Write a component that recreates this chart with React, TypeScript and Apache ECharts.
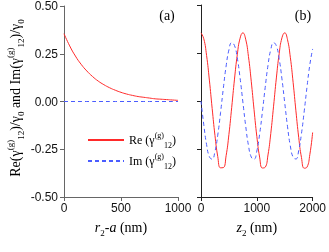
import React, { useEffect, useRef } from "react";
import * as echarts from "echarts";

const leftX = [0, 50, 100, 150, 200, 250, 300, 350, 400, 450, 500, 550, 600, 650, 700, 750, 800, 850, 900, 950, 1000];
const leftRe = [0.355, 0.291, 0.238, 0.195, 0.16, 0.131, 0.107, 0.088, 0.072, 0.059, 0.048, 0.039, 0.032, 0.026, 0.022, 0.018, 0.014, 0.012, 0.01, 0.008, 0.006];
const leftIm = [0, 0, 0, 0, 0, 0, 0, 0, 0, 0, 0, 0, 0, 0, 0, 0, 0, 0, 0, 0, 0];

const rightX = [0, 50, 100, 150, 200, 250, 300, 350, 400, 450, 500, 550, 600, 650, 700, 750, 800, 850, 900, 950, 1000, 1050, 1100, 1150, 1200, 1250, 1300, 1350, 1400, 1450, 1500, 1550, 1600, 1650, 1700, 1750, 1800, 1850, 1900, 1950, 2000];
const rightRe = [0.355, 0.324, 0.237, 0.109, -0.039, -0.179, -0.289, -0.348, -0.347, -0.285, -0.174, -0.033, 0.114, 0.241, 0.327, 0.355, 0.322, 0.232, 0.103, -0.045, -0.184, -0.292, -0.349, -0.345, -0.281, -0.169, -0.027, 0.12, 0.246, 0.329, 0.355, 0.319, 0.228, 0.097, -0.051, -0.189, -0.295, -0.35, -0.344, -0.278, -0.164];
const rightIm = [0, -0.124, -0.227, -0.29, -0.303, -0.263, -0.178, -0.061, 0.066, 0.182, 0.266, 0.304, 0.289, 0.224, 0.12, -0.005, -0.129, -0.231, -0.292, -0.303, -0.261, -0.173, -0.056, 0.071, 0.186, 0.268, 0.304, 0.287, 0.22, 0.115, -0.01, -0.134, -0.234, -0.293, -0.302, -0.258, -0.169, -0.051, 0.076, 0.19, 0.271];

const yTicks = { min: -0.5, max: 0.5, interval: 0.25 };
const leftXTicks = { min: 0, max: 1000, interval: 500 };
const rightXTicks = { min: 0, max: 2000, interval: 1000 };

const RED = "#ff2a2a";
const BLUE = "#4a5cff";
const SERIF = "Liberation Serif";
const SANS = "Liberation Sans";

const zip = (xs: number[], ys: number[]) => xs.map((x, i) => [x, ys[i]]);

export default function App() {
  const ref = useRef<HTMLDivElement>(null);
  useEffect(() => {
    if (!ref.current) return;
    const chart = echarts.init(ref.current, undefined, { renderer: "svg" });
    const axisCommon = (color: string) => ({
      axisLine: { show: true, onZero: false, lineStyle: { color, width: 1 } },
      axisTick: { show: true, inside: false, length: 4, lineStyle: { color, width: 1 } },
      splitLine: { show: false },
    });
    const subRich = {
      base: { fontFamily: SERIF, fontSize: 14, color: "#000", lineHeight: 20, verticalAlign: "middle" },
      it: { fontFamily: SERIF, fontSize: 14, fontStyle: "italic", color: "#000", lineHeight: 20 },
      sub: { fontFamily: SERIF, fontSize: 9, color: "#000", lineHeight: 20, verticalAlign: "bottom" },
      sup: { fontFamily: SERIF, fontSize: 9, color: "#000", lineHeight: 20, verticalAlign: "top" },
    };
    const legRich = {
      base: { fontFamily: SERIF, fontSize: 12, color: "#000", lineHeight: 18 },
      sub: { fontFamily: SERIF, fontSize: 8, color: "#000", lineHeight: 18, verticalAlign: "bottom" },
      sup: { fontFamily: SERIF, fontSize: 8, color: "#000", lineHeight: 18, verticalAlign: "top" },
    };
    const xLabel = { fontFamily: SANS, fontSize: 12, color: "#111", margin: 5, formatter: (v: number) => String(v) };
    chart.setOption({
      animation: false,
      grid: [
        { left: 64, top: 5, width: 114, height: 192 },
        { left: 201, top: 5, width: 114, height: 192 },
      ],
      xAxis: [
        {
          type: "value", gridIndex: 0, ...leftXTicks, ...axisCommon("#666"),
          axisLabel: xLabel,
          name: "{it|r}{sub|2}{it|-a}{base| (nm)}",
          nameLocation: "middle", nameGap: 20,
          nameTextStyle: { rich: subRich },
        },
        {
          type: "value", gridIndex: 1, ...rightXTicks, ...axisCommon("#222"),
          axisLabel: xLabel,
          name: "{it|z}{sub|2}{base| (nm)}",
          nameLocation: "middle", nameGap: 20,
          nameTextStyle: { rich: subRich },
        },
      ],
      yAxis: [
        {
          type: "value", gridIndex: 0, ...yTicks, ...axisCommon("#666"),
          axisLabel: { fontFamily: SANS, fontSize: 12, color: "#111", margin: 6, formatter: (v: number) => v.toFixed(2) },
        },
        {
          type: "value", gridIndex: 1, ...yTicks, ...axisCommon("#222"),
          axisLabel: { show: false },
        },
      ],
      legend: {
        orient: "vertical", left: 82, top: 126, itemWidth: 36, itemHeight: 10, itemGap: 3,
        itemStyle: { opacity: 0 },
        data: ["Re", "Im"],
        formatter: (n: string) => `{base|${n} (γ}{sup|(g)}{sub|12}{base|)}`,
        textStyle: { rich: legRich },
      },
      graphic: [
        {
          type: "text", x: 15, y: 98, rotation: Math.PI / 2,
          style: {
            text: "{base|Re(γ}{sup|(g)}{sub|12}{base|)/γ}{sub|0}{base| and Im(γ}{sup|(g)}{sub|12}{base|)/γ}{sub|0}",
            rich: subRich, align: "center", verticalAlign: "middle",
          },
        },
        { type: "text", x: 167, y: 15, style: { text: "(a)", fontFamily: SERIF, fontSize: 14, fill: "#000", align: "center", verticalAlign: "middle" } },
        { type: "text", x: 303, y: 15, style: { text: "(b)", fontFamily: SERIF, fontSize: 14, fill: "#000", align: "center", verticalAlign: "middle" } },
      ],
      series: [
        { name: "Re", type: "line", xAxisIndex: 0, yAxisIndex: 0, data: zip(leftX, leftRe), smooth: true, symbol: "none", lineStyle: { color: RED, width: 1 }, itemStyle: { color: RED } },
        { name: "Im", type: "line", xAxisIndex: 0, yAxisIndex: 0, data: zip(leftX, leftIm), symbol: "none", lineStyle: { color: BLUE, width: 1, type: [4, 3] }, itemStyle: { color: BLUE } },
        { name: "Re", type: "line", xAxisIndex: 1, yAxisIndex: 1, data: zip(rightX, rightRe), smooth: true, symbol: "none", lineStyle: { color: RED, width: 1 }, itemStyle: { color: RED } },
        { name: "Im", type: "line", xAxisIndex: 1, yAxisIndex: 1, data: zip(rightX, rightIm), smooth: true, symbol: "none", lineStyle: { color: BLUE, width: 1, type: [4, 3] }, itemStyle: { color: BLUE } },
      ],
    });
    return () => chart.dispose();
  }, []);
  return <div ref={ref} style={{ position: "fixed", left: 0, top: 0, width: 329, height: 252 }} />;
}
